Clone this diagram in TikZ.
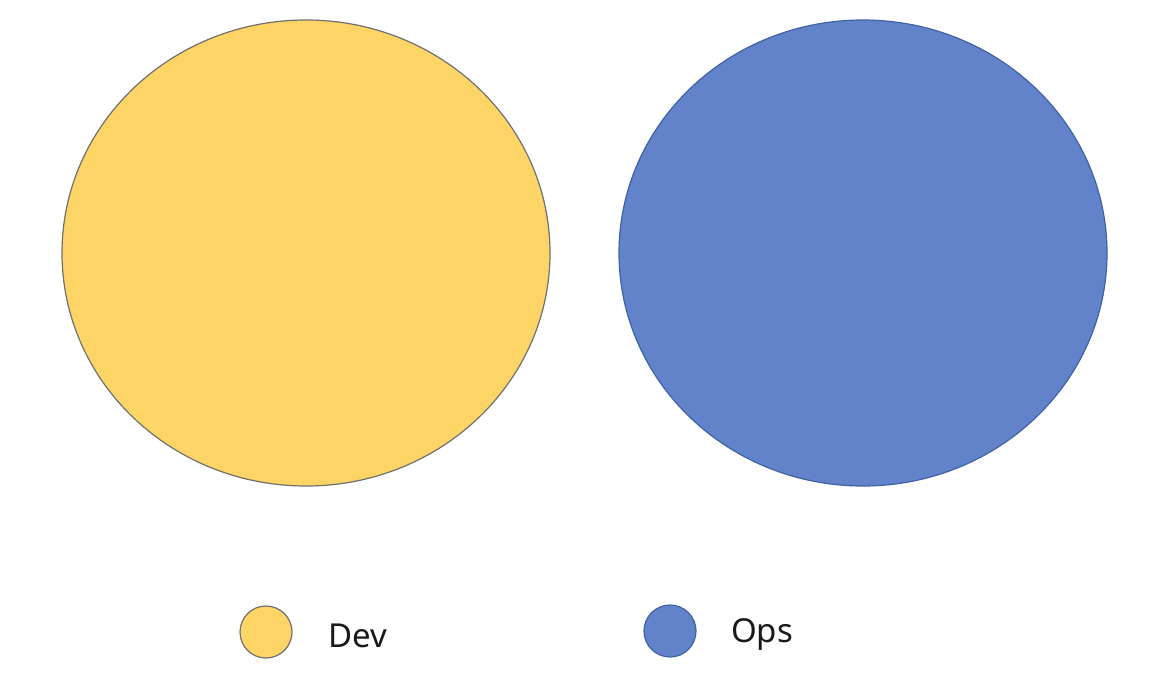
\documentclass[tikz,border=0pt]{standalone}
\usepackage{fontspec}
\setmainfont{Noto Sans}
\definecolor{devfill}{HTML}{FDD466}
\definecolor{devline}{HTML}{707070}
\definecolor{opsfill}{HTML}{6283C9}
\definecolor{opsline}{HTML}{3F62A6}
\begin{document}
\begin{tikzpicture}[x=1pt,y=-1pt,
  devshape/.style={fill=devfill,draw=devline,line width=1.2pt},
  opsshape/.style={fill=opsfill,draw=opsline,line width=1.2pt},
  legendtext/.style={anchor=base west,inner sep=0pt,font=\fontsize{33}{36}\selectfont,text=black!90}]
\useasboundingbox (0,0) rectangle (1161,689);
\fill[white] (0,0) rectangle (1161,689);
\path[devshape] (306,253) ellipse [x radius=244, y radius=233];
\path[opsshape] (863,253) ellipse [x radius=244, y radius=233];
\node[devshape,circle,minimum size=52pt,inner sep=0pt] (devdot) at (266,632) {};
\node[opsshape,circle,minimum size=52pt,inner sep=0pt] (opsdot) at (670,631) {};
\node[legendtext] (devlabel) at (328,647) {Dev};
\node[legendtext] (opslabel) at (731,642) {Ops};
\end{tikzpicture}
\end{document}
